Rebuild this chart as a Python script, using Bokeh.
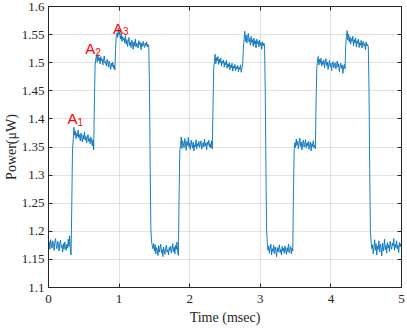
from bokeh.plotting import figure
from bokeh.models import LinearAxis, CustomJSTickFormatter, Range1d
from bokeh.core.properties import value
from bokeh.embed import file_html
from bokeh.resources import INLINE

DT = 0.01  # msec between samples

low_1 = [1.172,1.181,1.168,1.185,1.176,1.170,1.183,1.178,1.166,1.180,1.187,1.174,1.169,1.182,1.177,
         1.165,1.179,1.184,1.171,1.175,1.163,1.178,1.168,1.181,1.172,1.166,1.177,1.170,1.186,1.173,
         1.192,1.168,1.158]
rise_1 = [1.25, 1.345]
level_a1 = [1.362,1.385,1.371,1.378,1.365,1.374,1.369,1.380,1.366,1.372,1.361,1.375,1.368,1.359,1.371,
            1.364,1.377,1.362,1.369,1.357,1.366,1.372,1.360,1.365,1.356,1.368,1.361,1.352,1.363,1.345]
rise_2 = [1.43, 1.495]
level_a2 = [1.508,1.512,1.501,1.515,1.504,1.509,1.498,1.511,1.503,1.507,1.496,1.505,1.512,1.499,1.502,
            1.494,1.506,1.500,1.492,1.503,1.497,1.488,1.499,1.493,1.501,1.490,1.496,1.487]
rise_3 = [1.525, 1.548]
level_a3 = [1.553,1.545,1.561,1.549,1.556,1.542,1.551,1.538,1.547,1.540,1.544,1.535,1.548,1.533,1.541,
            1.529,1.538,1.545,1.531,1.536,1.527,1.540,1.533,1.524,1.537,1.530,1.542,1.528,1.535,1.531,
            1.526,1.539,1.532,1.536,1.523,1.534,1.529,1.538,1.531,1.527,1.535,1.530,1.537,1.528,1.533,
            1.530]
fall_1 = [1.46, 1.32, 1.205]
low_2 = [1.182,1.174,1.169,1.178,1.165,1.176,1.160,1.171,1.168,1.157,1.174,1.163,1.170,1.177,1.162,
         1.168,1.155,1.172,1.165,1.159,1.170,1.175,1.163,1.167,1.158,1.171,1.166,1.174,1.161,1.169,
         1.178,1.164,1.172,1.160,1.175,1.168,1.181,1.163,1.157]
rise_4 = [1.27, 1.345]
level_b1 = [1.352,1.368,1.347,1.361,1.356,1.349,1.365,1.358,1.344,1.360,1.353,1.367,1.350,1.357,1.346,
            1.362,1.355,1.348,1.359,1.343,1.354,1.351,1.363,1.347,1.356,1.352,1.360,1.349,1.355,1.361,
            1.346,1.353,1.358,1.350,1.364,1.352,1.357,1.345,1.359,1.354,1.362,1.350,1.356,1.348,1.361,
            1.347]
rise_5 = [1.42, 1.49]
level_b2 = [1.502,1.515,1.498,1.509,1.503,1.511,1.497,1.506,1.500,1.508,1.494,1.503,1.499,1.505,1.492,
            1.501,1.496,1.504,1.490,1.498,1.493,1.500,1.487,1.496,1.491,1.499,1.485,1.494,1.490,1.497,
            1.486,1.493,1.489,1.495,1.484,1.492,1.488,1.496,1.483,1.491,1.494]
rise_6 = [1.525]
level_b3 = [1.541,1.556,1.538,1.549,1.535,1.545,1.552,1.537,1.543,1.531,1.547,1.536,1.541,1.529,1.544,
            1.533,1.539,1.526,1.542,1.534,1.538,1.528,1.540,1.531,1.536,1.524,1.537,1.530,1.535,1.532]
fall_2 = [1.45, 1.31, 1.2]
low_3 = [1.178,1.166,1.174,1.161,1.170,1.177,1.158,1.169,1.164,1.175,1.160,1.172,1.167,1.155,1.171,
         1.163,1.169,1.176,1.162,1.168,1.158,1.173,1.165,1.170,1.161,1.174,1.166,1.159,1.171,1.164,
         1.177,1.162,1.168,1.173,1.160,1.170,1.165]
rise_7 = [1.27, 1.345]
level_c1 = [1.358,1.349,1.364,1.353,1.360,1.347,1.357,1.366,1.351,1.359,1.345,1.356,1.362,1.350,1.355,
            1.363,1.348,1.357,1.352,1.360,1.346,1.354,1.359,1.343,1.356,1.351,1.361,1.349,1.353,1.347]
rise_8 = [1.43, 1.49]
level_c2 = [1.503,1.511,1.496,1.506,1.499,1.508,1.494,1.502,1.497,1.505,1.491,1.500,1.507,1.495,1.501,
            1.488,1.498,1.504,1.493,1.499,1.486,1.497,1.502,1.491,1.496,1.500,1.489,1.495,1.503,1.492,
            1.498,1.484,1.494,1.499,1.490,1.496,1.481,1.493,1.497,1.489]
rise_9 = [1.53]
level_c3 = [1.548,1.557,1.540,1.551,1.537,1.546,1.533,1.543,1.538,1.547,1.530,1.541,1.535,1.544,1.528,
            1.539,1.534,1.542,1.527,1.536,1.531,1.540,1.526,1.535,1.538,1.529,1.534,1.523,1.537,1.530,
            1.533,1.528]
fall_3 = [1.45, 1.31, 1.2]
low_4 = [1.181,1.169,1.176,1.160,1.172,1.185,1.166,1.178,1.158,1.174,1.168,1.183,1.163,1.177,1.171,
         1.156,1.179,1.165,1.173,1.186,1.167,1.175,1.161,1.180,1.170,1.176,1.164,1.182,1.172,1.168,
         1.179,1.174,1.187,1.166,1.177,1.171,1.183,1.169,1.175,1.162,1.180,1.173,1.178,1.170]

power_uw = (low_1 + rise_1 + level_a1 + rise_2 + level_a2 + rise_3 + level_a3 + fall_1 +
            low_2 + rise_4 + level_b1 + rise_5 + level_b2 + rise_6 + level_b3 + fall_2 +
            low_3 + rise_7 + level_c1 + rise_8 + level_c2 + rise_9 + level_c3 + fall_3 + low_4)
time_ms = [round(i * DT, 2) for i in range(len(power_uw))]

x_ticks = [0, 1, 2, 3, 4, 5]
y_ticks = [1.1, 1.15, 1.2, 1.25, 1.3, 1.35, 1.4, 1.45, 1.5, 1.55, 1.6]

ann_x = [0.268, 0.52, 0.915]
ann_y = [1.40, 1.525, 1.561]
ann_main = ["A", "A", "A"]
ann_sub = ["1", "2", "3"]

AX = "#262626"
SERIF = "Liberation Serif"

p = figure(width=407, height=329, x_range=Range1d(0, 5), y_range=Range1d(1.1, 1.6),
           output_backend="svg", toolbar_location=None,
           min_border_top=6, min_border_right=6, min_border_left=46, min_border_bottom=42)
p.background_fill_color = "white"
p.border_fill_color = "white"
p.outline_line_color = AX
p.outline_line_width = 1

bottom = p.below[0]
left = p.left[0]

yfmt = CustomJSTickFormatter(code="return String(Math.round(tick*100)/100);")
blank = CustomJSTickFormatter(code="return '';")

bottom.ticker = x_ticks
left.ticker = y_ticks
left.formatter = yfmt

right = LinearAxis(ticker=y_ticks, formatter=blank)
above = LinearAxis(ticker=x_ticks, formatter=blank)
p.add_layout(right, "right")
p.add_layout(above, "above")

for ax in [bottom, left, right, above]:
    ax.axis_line_color = AX
    ax.axis_line_width = 1
    ax.major_tick_line_color = AX
    ax.major_tick_in = 4
    ax.major_tick_out = 0
    ax.minor_tick_line_color = None
    ax.major_label_text_font = SERIF
    ax.major_label_text_color = AX
    ax.axis_label_text_font = SERIF
    ax.axis_label_text_font_style = "normal"
    ax.axis_label_text_color = AX
    ax.axis_label_text_font_size = "14px"

for ax in [right, above]:
    ax.major_label_text_font_size = "0px"
    ax.major_label_standoff = 0

bottom.major_label_text_font_size = "13px"
left.major_label_text_font_size = "13px"
bottom.major_label_standoff = 7
left.major_label_standoff = 4
bottom.axis_label = "Time (msec)"
left.axis_label = "Power(μW)"
bottom.axis_label_standoff = 4
left.axis_label_standoff = 0

p.xgrid.grid_line_color = AX
p.xgrid.grid_line_alpha = 0.13
p.ygrid.grid_line_color = AX
p.ygrid.grid_line_alpha = 0.13

p.line(time_ms, power_uw, line_color="#0072BD", line_width=0.9)

p.text(x=ann_x, y=ann_y, text=ann_main, text_color="#ff0000",
       text_font=value("Liberation Sans"), text_font_size="15px",
       text_align="left", text_baseline="alphabetic")
p.text(x=ann_x, y=ann_y, text=ann_sub, text_color="#ff0000",
       text_font=value("Liberation Sans"), text_font_size="10px",
       text_align="left", text_baseline="alphabetic", x_offset=10, y_offset=3)

open("out.html", "w").write(file_html(p, INLINE))
